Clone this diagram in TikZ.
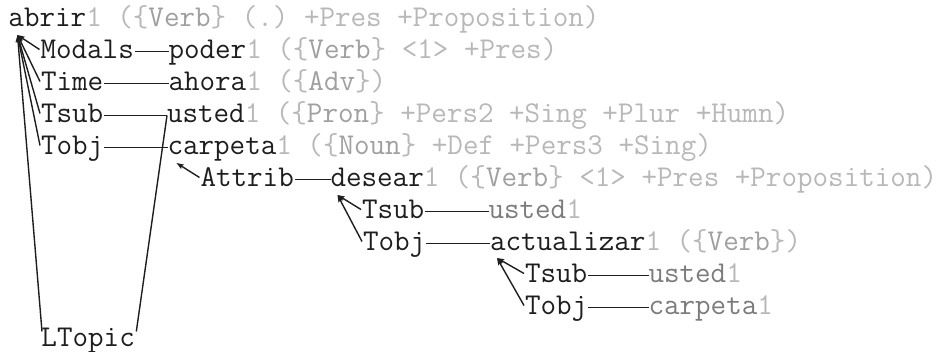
\documentclass[tikz,border=0pt]{standalone}
\usepackage{fontspec}
\usetikzlibrary{arrows.meta,calc}
\definecolor{wordcol}{HTML}{1E1E1E}
\definecolor{leafcol}{HTML}{7C7C7C}
\definecolor{featcol}{HTML}{B8B8B8}
\definecolor{catcol}{HTML}{A0A0A0}
\newcommand\catw[1]{\textcolor{catcol}{#1}}
\tikzset{
  txt/.style={inner sep=0pt, outer sep=0pt, anchor=base west,
    text height=14pt, text depth=0pt,
    font=\ttfamily\fontsize{30.2pt}{32pt}\selectfont\frenchspacing},
  head/.style={txt, text=wordcol},
  leaf/.style={txt, text=leafcol},
  feat/.style={txt, text=featcol},
  lab/.style={txt, text=wordcol},
  rel/.style={draw=wordcol, line width=1.4pt,
    -{Stealth[length=7pt,width=5pt,inset=1pt]}},
  link/.style={draw=wordcol, line width=1.4pt},
}
\begin{document}
\begin{tikzpicture}[x=1pt,y=1pt]
\fill[white] (0,0) rectangle (951,-352);
\useasboundingbox (0,0) rectangle (951,-352);

% root
\node[head] (abrir) at (8.5,-26.5) {abrir};
\node[feat] (abrirF) at (abrir.base east) {1 (\{\catw{Verb}\} (.) +Pres +Proposition)};

% dependents of abrir
\node[lab] (modals) at (40.5,-58.5) {Modals};
\node[head] (poder) at (168.5,-58.5) {poder};
\node[feat] (poderF) at (poder.base east) {1 (\{\catw{Verb}\} <1> +Pres)};

\node[lab] (time) at (41,-90.5) {Time};
\node[head] (ahora) at (168.5,-90.5) {ahora};
\node[feat] (ahoraF) at (ahora.base east) {1 (\{\catw{Adv}\})};

\node[lab] (tsubA) at (41,-122.5) {Tsub};
\node[head] (usted) at (167,-122.5) {usted};
\node[feat] (ustedF) at (usted.base east) {1 (\{\catw{Pron}\} +Pers2 +Sing +Plur +Humn)};

\node[lab] (tobjA) at (41,-154.5) {Tobj};
\node[head] (carpeta) at (167.5,-154.5) {carpeta};
\node[feat] (carpetaF) at (carpeta.base east) {1 (\{\catw{Noun}\} +Def +Pers3 +Sing)};

% dependents of carpeta
\node[lab] (attrib) at (200.5,-186.5) {Attrib};
\node[head] (desear) at (330.5,-186.5) {desear};
\node[feat] (desearF) at (desear.base east) {1 (\{\catw{Verb}\} <1> +Pres +Proposition)};

% dependents of desear
\node[lab] (tsubB) at (362,-218.5) {Tsub};
\node[leaf] (ustedB) at (488.5,-218.5) {usted};
\node[feat] (ustedBF) at (ustedB.base east) {1};

\node[lab] (tobjB) at (363,-250.5) {Tobj};
\node[head] (actualizar) at (490,-250.5) {actualizar};
\node[feat] (actualizarF) at (actualizar.base east) {1 (\{\catw{Verb}\})};

% dependents of actualizar
\node[lab] (tsubC) at (525,-282.5) {Tsub};
\node[leaf] (ustedC) at (648.5,-282.5) {usted};
\node[feat] (ustedCF) at (ustedC.base east) {1};

\node[lab] (tobjC) at (525,-314.5) {Tobj};
\node[leaf] (carpetaC) at (648.5,-314.5) {carpeta};
\node[feat] (carpetaCF) at (carpetaC.base east) {1};

% topic relation
\node[lab] (ltopic) at (41.5,-346.5) {LTopic};

% arrow tips under the heads
\coordinate (abrirT) at ($(abrir.base west)+(9,-8.5)$);
\coordinate (carpetaT) at ($(carpeta.base west)+(9,-8.5)$);
\coordinate (desearT) at ($(desear.base west)+(7,-8.5)$);
\coordinate (actualizarT) at ($(actualizar.base west)+(7,-7.5)$);

% relation lines up to the heads
\draw[rel] ($(modals.west)+(-1,2)$) -- (abrirT);
\draw[rel] ($(time.west)+(-1,2)$) -- (abrirT);
\draw[rel] ($(tsubA.west)+(-1,2)$) -- (abrirT);
\draw[rel] ($(tobjA.west)+(-1,2)$) -- (abrirT);
\draw[rel] ($(ltopic.base west)+(0.5,15)$) -- (abrirT);
\draw[rel] ($(attrib.west)+(-1,2)$) -- (carpetaT);
\draw[rel] ($(tsubB.west)+(-1,2)$) -- (desearT);
\draw[rel] ($(tobjB.west)+(-1,2)$) -- (desearT);
\draw[rel] ($(tsubC.west)+(-1,2)$) -- (actualizarT);
\draw[rel] ($(tobjC.west)+(-1,2)$) -- (actualizarT);

% links from relation labels to their values
\draw[link] ($(modals.east)+(1,0)$) -- (poder.west);
\draw[link] ($(time.east)+(1,0)$) -- (ahora.west);
\draw[link] ($(tsubA.east)+(1,0)$) -- (usted.west);
\draw[link] ($(tobjA.east)+(1,0)$) -- (carpeta.west);
\draw[link] ($(attrib.east)+(1,0)$) -- (desear.west);
\draw[link] ($(tsubB.east)+(1,0)$) -- (ustedB.west);
\draw[link] ($(tobjB.east)+(1,0)$) -- (actualizar.west);
\draw[link] ($(tsubC.east)+(1,0)$) -- (ustedC.west);
\draw[link] ($(tobjC.east)+(1,0)$) -- (carpetaC.west);
\draw[link] ($(ltopic.base east)+(1.5,15)$) -- (usted.west);
\end{tikzpicture}
\end{document}
